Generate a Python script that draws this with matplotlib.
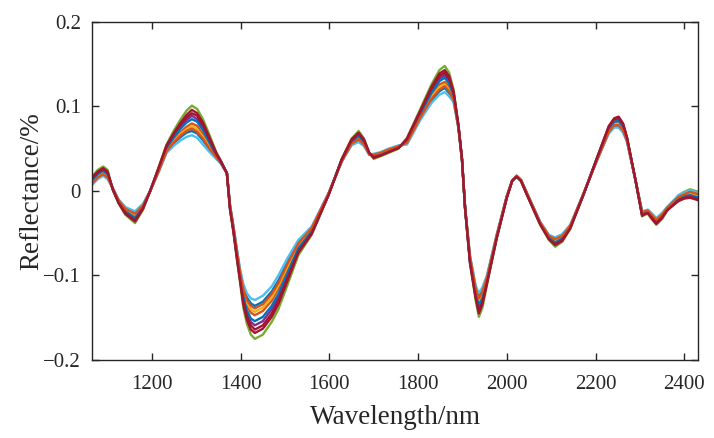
#! /usr/bin/env python3

'''
NIR reflectance spectra of all samples, plotted as one line each.
'''

import matplotlib
matplotlib.use('Agg')
import matplotlib.pyplot as plt


wavelength = [
    1065, 1078, 1090, 1100, 1112, 1125, 1140, 1162, 1180, 1196,
    1215, 1233, 1250, 1265, 1278, 1290, 1302, 1315, 1330, 1345,
    1356, 1369, 1376, 1384, 1392, 1399, 1406, 1414, 1423, 1432,
    1450, 1470, 1485, 1505, 1530, 1560, 1598, 1628, 1650, 1666,
    1678, 1690, 1700, 1715, 1733, 1756, 1775, 1805, 1830, 1848,
    1860, 1870, 1880, 1891, 1899, 1906, 1917, 1930, 1937, 1945,
    1955, 1977, 2000, 2012, 2022, 2032, 2045, 2075, 2095, 2109,
    2125, 2143, 2173, 2203, 2230, 2242, 2252, 2262, 2271, 2290,
    2305, 2312, 2318, 2326, 2337, 2350, 2361, 2387, 2400, 2413,
    2432,
]

s1 = [
    .009, .016, .020, .016, .003, -.011, -.020, -.026, -.016, .000,
    .023, .047, .057, .064, .069, .071, .068, .060, .049, .039,
    .032, .021, -.017, -.043, -.072, -.096, -.114, -.126, -.133, -.136,
    -.131, -.119, -.106, -.085, -.061, -.044, -.003, .035, .055, .060,
    .054, .043, .043, .045, .049, .053, .056, .086, .107, .118,
    .122, .116, .107, .075, .036, -.020, -.078, -.115, -.125, -.118,
    -.102, -.053, -.006, .012, .018, .013, -.002, -.037, -.053, -.057,
    -.052, -.041, -.003, .036, .070, .077, .077, .071, .059, .013,
    -.025, -.024, -.023, -.027, -.033, -.027, -.020, -.006, -.003, -.001,
    -.004,
]
s2 = [
    .011, .018, .022, .018, .002, -.012, -.023, -.030, -.018, .000,
    .024, .049, .061, .070, .076, .080, .077, .067, .054, .041,
    .033, .021, -.018, -.045, -.075, -.100, -.121, -.135, -.144, -.147,
    -.142, -.130, -.116, -.093, -.065, -.046, -.004, .036, .057, .063,
    .057, .044, .042, .044, .048, .052, .058, .089, .113, .126,
    .129, .123, .111, .076, .037, -.020, -.080, -.119, -.132, -.124,
    -.105, -.054, -.007, .012, .018, .013, -.003, -.038, -.054, -.059,
    -.055, -.042, -.003, .037, .072, .080, .081, .074, .060, .013,
    -.026, -.025, -.024, -.029, -.035, -.029, -.021, -.008, -.005, -.003,
    -.006,
]
s3 = [
    .010, .017, .021, .017, .002, -.012, -.022, -.028, -.017, .000,
    .024, .048, .059, .068, .073, .077, .073, .064, .052, .040,
    .033, .021, -.018, -.044, -.074, -.098, -.118, -.132, -.140, -.143,
    -.138, -.126, -.112, -.090, -.063, -.045, -.004, .036, .056, .062,
    .056, .044, .042, .045, .049, .053, .057, .088, .111, .123,
    .126, .120, .110, .075, .037, -.020, -.079, -.117, -.129, -.121,
    -.104, -.054, -.007, .012, .018, .013, -.003, -.037, -.054, -.058,
    -.054, -.042, -.003, .037, .071, .079, .080, .073, .060, .013,
    -.026, -.025, -.024, -.028, -.034, -.028, -.021, -.007, -.004, -.002,
    -.005,
]
s4 = [
    .014, .021, .025, .021, .002, -.013, -.025, -.033, -.020, .000,
    .026, .052, .066, .076, .084, .089, .085, .075, .059, .043,
    .034, .021, -.020, -.047, -.078, -.104, -.128, -.144, -.155, -.159,
    -.154, -.140, -.126, -.101, -.070, -.049, -.004, .037, .059, .066,
    .059, .044, .040, .043, .047, .051, .060, .092, .118, .133,
    .137, .130, .115, .077, .037, -.021, -.083, -.124, -.139, -.130,
    -.108, -.055, -.007, .012, .017, .012, -.003, -.039, -.056, -.062,
    -.057, -.043, -.004, .038, .075, .083, .085, .077, .062, .013,
    -.028, -.026, -.025, -.031, -.037, -.031, -.022, -.010, -.007, -.006,
    -.009,
]
s5 = [
    .017, .025, .029, .025, .001, -.015, -.028, -.038, -.022, .000,
    .028, .055, .072, .085, .095, .101, .097, .085, .066, .046,
    .035, .021, -.022, -.050, -.083, -.110, -.138, -.157, -.170, -.175,
    -.170, -.155, -.140, -.112, -.076, -.052, -.005, .038, .062, .071,
    .062, .045, .038, .041, .045, .050, .063, .097, .126, .143,
    .148, .140, .120, .078, .038, -.021, -.086, -.130, -.149, -.138,
    -.112, -.057, -.008, .012, .017, .012, -.004, -.040, -.058, -.066,
    -.060, -.045, -.004, .039, .076, .084, .086, .079, .063, .013,
    -.030, -.028, -.027, -.033, -.040, -.033, -.024, -.005, -.001, .002,
    -.001,
]
s6 = [
    .007, .014, .018, .014, .003, -.010, -.019, -.024, -.015, .000,
    .022, .045, .054, .060, .064, .066, .063, .055, .046, .038,
    .032, .021, -.016, -.042, -.070, -.093, -.110, -.121, -.127, -.129,
    -.124, -.113, -.100, -.080, -.058, -.042, -.003, .035, .054, .058,
    .053, .043, .044, .046, .050, .054, .055, .084, .104, .114,
    .117, .112, .105, .074, .036, -.020, -.076, -.112, -.121, -.114,
    -.100, -.052, -.006, .012, .018, .013, -.002, -.036, -.052, -.055,
    -.051, -.040, -.003, .036, .068, .075, .075, .069, .058, .013,
    -.024, -.023, -.022, -.026, -.032, -.026, -.019, -.005, -.002, .001,
    -.002,
]
s7 = [
    .016, .023, .027, .023, .001, -.014, -.027, -.036, -.021, .000,
    .027, .054, .069, .081, .090, .096, .092, .081, .063, .045,
    .035, .021, -.021, -.049, -.081, -.107, -.134, -.152, -.164, -.168,
    -.163, -.149, -.134, -.107, -.073, -.051, -.005, .038, .061, .069,
    .061, .045, .039, .042, .046, .051, .062, .095, .123, .139,
    .143, .136, .118, .077, .038, -.021, -.085, -.127, -.145, -.134,
    -.110, -.056, -.008, .012, .017, .012, -.004, -.039, -.057, -.064,
    -.059, -.044, -.004, .039, .077, .086, .088, .080, .063, .013,
    -.029, -.027, -.026, -.032, -.039, -.032, -.023, -.012, -.009, -.008,
    -.011,
]
s8 = [
    .013, .020, .024, .020, .002, -.013, -.024, -.032, -.019, .000,
    .025, .051, .064, .074, .081, .085, .082, .072, .057, .042,
    .034, .021, -.019, -.046, -.077, -.102, -.125, -.141, -.151, -.154,
    -.149, -.136, -.122, -.098, -.068, -.048, -.004, .037, .058, .065,
    .058, .044, .041, .043, .047, .052, .059, .091, .116, .130,
    .134, .127, .113, .076, .037, -.021, -.082, -.122, -.136, -.127,
    -.107, -.055, -.007, .012, .017, .012, -.003, -.038, -.055, -.061,
    -.056, -.043, -.004, .038, .074, .082, .083, .076, .061, .013,
    -.027, -.026, -.025, -.030, -.036, -.030, -.022, -.009, -.006, -.005,
    -.008,
]
s9 = [
    .009, .016, .020, .016, .003, -.011, -.021, -.027, -.017, .000,
    .023, .047, .058, .066, .071, .074, .070, .062, .050, .040,
    .033, .021, -.017, -.044, -.073, -.097, -.116, -.129, -.136, -.139,
    -.134, -.122, -.109, -.087, -.062, -.044, -.003, .035, .056, .061,
    .055, .043, .043, .045, .049, .053, .057, .087, .109, .120,
    .124, .118, .108, .075, .036, -.020, -.078, -.116, -.127, -.119,
    -.103, -.053, -.006, .012, .018, .013, -.002, -.037, -.053, -.057,
    -.053, -.041, -.003, .036, .070, .078, .078, .072, .059, .013,
    -.025, -.024, -.023, -.028, -.034, -.028, -.020, -.007, -.004, -.001,
    -.004,
]
s10 = [
    .015, .022, .026, .022, .002, -.014, -.026, -.035, -.020, .000,
    .027, .053, .068, .079, .087, .092, .089, .078, .061, .044,
    .034, .021, -.021, -.048, -.080, -.106, -.131, -.148, -.159, -.164,
    -.159, -.145, -.130, -.104, -.072, -.050, -.005, .037, .060, .068,
    .060, .045, .040, .042, .046, .051, .061, .094, .121, .136,
    .140, .133, .116, .077, .038, -.021, -.084, -.126, -.142, -.132,
    -.109, -.056, -.008, .012, .017, .012, -.004, -.039, -.057, -.063,
    -.058, -.044, -.004, .038, .076, .085, .086, .079, .063, .013,
    -.029, -.027, -.026, -.031, -.038, -.031, -.023, -.011, -.008, -.007,
    -.010,
]
spectra = [s1, s2, s3, s4, s5, s6, s7, s8, s9, s10]

x_ticks = [1200, 1400, 1600, 1800, 2000, 2200, 2400]
y_ticks = [-0.2, -0.1, 0, 0.1, 0.2]
y_tick_labels = ['\u22120.2', '\u22120.1', '0', '0.1', '0.2']

# MATLAB default line colours, one per spectrum
colours = ['#0072BD', '#D95319', '#EDB120', '#7E2F8E', '#77AC30',
           '#4DBEEE', '#A2142F', '#0072BD', '#D95319', '#A2142F']

ink = '#262626'


def main():
    plt.rcParams['font.family'] = ['Liberation Serif', 'DejaVu Serif']
    fig = plt.figure(figsize=(7.14, 4.38), dpi=100)
    ax = fig.add_axes([0.1289, 0.1781, 0.8487, 0.7717])
    for s, col in zip(spectra, colours):
        ax.plot(wavelength, s, color=col, linewidth=1.7)
    ax.set_xlim(1065, 2431)
    ax.set_ylim(-0.2, 0.2)
    ax.set_xticks(x_ticks)
    ax.set_yticks(y_ticks)
    ax.set_yticklabels(y_tick_labels)
    ax.tick_params(direction='in', length=5, width=1, top=True,
                   right=True, labelsize=15, colors=ink)
    ax.tick_params(axis='x', pad=11)
    ax.tick_params(axis='y', pad=8)
    for spine in ax.spines.values():
        spine.set_color(ink)
        spine.set_linewidth(1.0)
    ax.set_xlabel('Wavelength/nm', fontsize=19.5, color=ink, labelpad=8)
    ax.set_ylabel('Reflectance/%', fontsize=19.5, color=ink, labelpad=-1)
    fig.savefig('out.png', dpi=100)


if __name__ == '__main__':
    main()
